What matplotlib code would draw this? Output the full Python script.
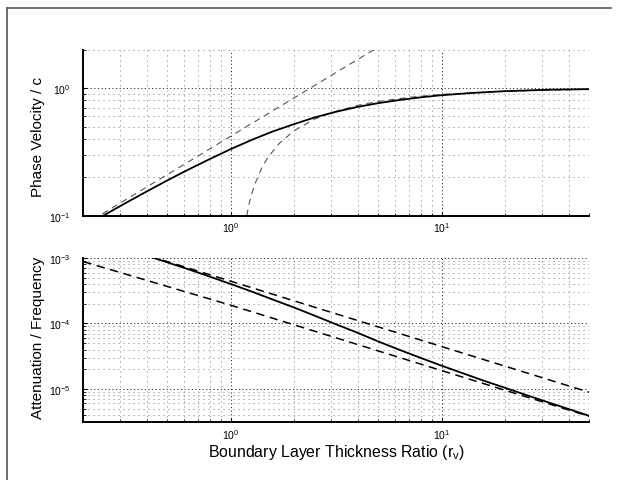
import numpy as np
import matplotlib
matplotlib.use("Agg")
import matplotlib.pyplot as plt
from matplotlib.lines import Line2D

plt.rcParams['font.family'] = ['Liberation Sans', 'DejaVu Sans']
plt.rcParams['mathtext.fontset'] = 'custom'
plt.rcParams['mathtext.rm'] = 'Liberation Sans'
plt.rcParams['mathtext.it'] = 'Liberation Sans:italic'
plt.rcParams['lines.scale_dashes'] = False

# --- data ---
# top panel: phase velocity / c
pv_x = [0.224, 0.251, 0.316, 0.398, 0.501, 0.631, 0.794, 1.0, 1.26, 1.58, 2.0, 2.51, 3.16,
        3.98, 5.01, 6.31, 7.94, 10, 14.1, 20, 31.6, 50]
pv_y = [0.0904, 0.1009, 0.1252, 0.1543, 0.1894, 0.2304, 0.2777, 0.3327, 0.3936, 0.4571,
        0.5231, 0.5902, 0.6531, 0.7119, 0.7628, 0.8072, 0.8463, 0.8801, 0.9173, 0.9462,
        0.9705, 0.9817]
pv_low_x = [0.2, 5.0]          # low r_v asymptote
pv_low_y = [0.084, 2.1]
pv_high_x = [1.19, 1.22, 1.25, 1.3, 1.4, 1.5, 1.7, 2.0, 2.5, 3.0, 4.0, 5.0, 7.0, 10, 20, 50]
pv_high_y = [0.100, 0.123, 0.144, 0.177, 0.236, 0.287, 0.370, 0.465, 0.572, 0.643, 0.733,
             0.786, 0.847, 0.893, 0.947, 0.979]

# bottom panel: attenuation / frequency
at_x = [0.398, 0.501, 0.631, 0.794, 1.0, 1.26, 1.58, 2.0, 2.51, 3.16, 3.98, 5.01, 6.31,
        7.94, 10, 12.6, 15.8, 20, 25.1, 31.6, 39.8, 50]
at_y = [1.091e-3, 8.55e-4, 6.70e-4, 5.20e-4, 4.00e-4, 3.06e-4, 2.32e-4, 1.746e-4, 1.306e-4,
        9.68e-5, 7.23e-5, 5.30e-5, 3.95e-5, 2.98e-5, 2.26e-5, 1.734e-5, 1.337e-5, 1.038e-5,
        8.09e-6, 6.32e-6, 4.95e-6, 3.89e-6]
at_low_x = [0.2, 50]           # low r_v asymptote
at_low_y = [2.2e-3, 8.9e-6]
at_high_x = [0.2, 1.0, 50]     # high r_v asymptote
at_high_y = [8.8e-4, 1.9e-4, 3.82e-6]

xlim = (0.2, 50)

fig = plt.figure(figsize=(6.19, 4.81), dpi=100)

# frame around the figure
fig.add_artist(Line2D([7 / 619, 7 / 619], [0, 1 - 9 / 481], transform=fig.transFigure,
                      color='#555555', lw=1.2))
fig.add_artist(Line2D([7 / 619, 611 / 619], [1 - 9 / 481, 1 - 9 / 481], transform=fig.transFigure,
                      color='#555555', lw=1.2))

ax1 = fig.add_axes([0.1346, 0.5495, 0.8174, 0.3451])
ax2 = fig.add_axes([0.1346, 0.1200, 0.8174, 0.3416])


def style_axes(ax):
    ax.set_xscale('log')
    ax.set_yscale('log')
    ax.set_xlim(*xlim)
    for s in ['top', 'right']:
        ax.spines[s].set_visible(False)
    for s in ['left', 'bottom']:
        ax.spines[s].set_linewidth(1.4)
    ax.grid(True, which='major', color='#222222', lw=0.7, linestyle=(0, (0.8, 1.8)))
    ax.grid(True, which='minor', color='#888888', lw=0.7, linestyle=(0, (0.8, 2.8)))
    ax.tick_params(which='both', direction='in', labelsize=7.5)
    ax.tick_params(axis='y', pad=9)
    ax.tick_params(axis='x', pad=3.5)
    ax.tick_params(which='major', length=3, width=0.8)
    ax.tick_params(which='minor', length=2, width=0.6)
    ax.set_axisbelow(True)


style_axes(ax1)
ax1.set_ylim(0.1, 2.0)
ax1.plot(pv_low_x, pv_low_y, color='#555555', lw=0.8, linestyle=(0, (4.5, 3.5)))
ax1.plot(pv_high_x, pv_high_y, color='#555555', lw=0.8, linestyle=(0, (4.5, 3.5)))
ax1.plot(pv_x, pv_y, color='black', lw=1.3)
ax1.set_ylabel('Phase Velocity / c', fontsize=11)
ax1.yaxis.set_label_coords(-0.075, 0.48)

style_axes(ax2)
ax2.set_ylim(3.1e-6, 1e-3)
ax2.plot(at_low_x, at_low_y, color='black', lw=1.1, linestyle=(0, (6, 4)))
ax2.plot(at_high_x, at_high_y, color='black', lw=1.1, linestyle=(0, (6, 4)))
ax2.plot(at_x, at_y, color='black', lw=1.3)
ax2.set_ylabel('Attenuation / Frequency', fontsize=11)
ax2.yaxis.set_label_coords(-0.075, 0.52)
ax2.set_xlabel('Boundary Layer Thickness Ratio (r$_\\mathrm{v}$)', fontsize=11.4)
ax2.xaxis.set_label_coords(0.5, -0.118)

fig.savefig('out.png', dpi=100)
